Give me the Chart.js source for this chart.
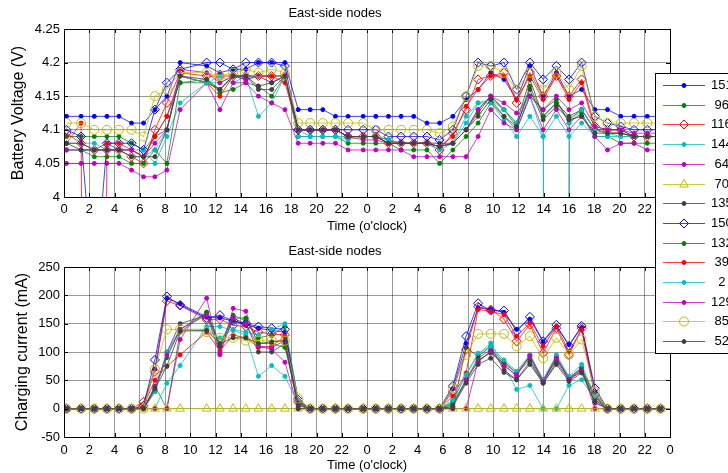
<!DOCTYPE html>
<html>
<head>
<meta charset="utf-8">
<script src="https://cdn.jsdelivr.net/npm/chart.js@4.4.1/dist/chart.umd.min.js"></script>
<style>
  html, body { margin: 0; padding: 0; background: #fff; }
  #wrap { position: relative; width: 728px; height: 473px; overflow: hidden; background: #fff; }
  #wrap canvas { position: absolute; left: 0; top: 0; }
</style>
</head>
<body>
<div id="wrap">
  <canvas id="currentChart" width="728" height="473"></canvas>
  <canvas id="voltageChart" width="728" height="473"></canvas>
</div>
<script>
// sample times in hours since midnight of day 1 (two days shown)
const hours = [0.2, 1.35, 2.4, 3.4, 4.35, 5.35, 6.3, 7.2, 8.15, 9.2,
  11.3, 12.35, 13.4, 14.4, 15.4, 16.45, 17.5, 18.55, 19.5, 20.5, 21.5, 22.5,
  23.7, 24.7, 25.7, 26.7, 27.7, 28.75, 29.75, 30.8, 31.85, 32.8, 33.8, 34.85, 35.85,
  36.9, 37.95, 39.0, 40.0, 41.0, 42.05, 43.05, 44.1, 45.15, 46.2, 47.25];

const hourTicks = [0, 2, 4, 6, 8, 10, 12, 14, 16, 18, 20, 22, 24, 26, 28, 30, 32, 34, 36, 38, 40, 42, 44, 46, 48];
const hourTickLabels = ['0', '2', '4', '6', '8', '10', '12', '14', '16', '18', '20', '22',
  '0', '2', '4', '6', '8', '10', '12', '14', '16', '18', '20', '22', '0'];
const voltageTicks = [4, 4.05, 4.1, 4.15, 4.2, 4.25];
const voltageTickLabels = ['4', '4.05', '4.1', '4.15', '4.2', '4.25'];
const currentTicks = [-50, 0, 50, 100, 150, 200, 250];
const currentTickLabels = ['-50', '0', '50', '100', '150', '200', '250'];

const nodeIds = ['151', '96', '116', '144', '64', '70', '135', '150', '132', '39', '2', '129', '85', '52'];

// battery voltage (V)
const voltage151 = [4.12,4.12,4.12,4.12,4.12,4.11,4.11, 4.13,4.15,4.20, 4.195,4.185,4.19,4.19,4.20,4.20,4.20, 4.13,4.13,4.13,4.12,4.12,
  4.12,4.12,4.12,4.12,4.12,4.11,4.11, 4.12,4.145,4.16,4.185,4.175,4.145,4.195,4.15,4.185,4.15,4.16,4.13, 4.13,4.12,4.12,4.12,4.12];
const voltage96 = [4.09,4.09,4.09,4.09,4.09,4.08,4.07, 4.09,4.12,4.17, 4.175,4.155,4.16,4.17,4.165,4.15,4.18, 4.09,4.09,4.09,4.09,4.08,
  4.08,4.08,4.08,4.07,4.07,4.07,4.05, 4.07,4.09,4.11,4.14,4.12,4.10,4.15,4.13,4.145,4.11,4.125,4.09, 4.09,4.08,4.08,4.08,4.08];
const voltage116 = [4.095,4.08,4.07,4.07,4.07,4.06,4.05, 4.10,4.14,4.185, 4.18,4.18,4.18,4.18,4.18,4.18,4.18, 4.10,4.10,4.10,4.10,4.09,
  4.09,4.09,4.08,4.08,4.08,4.08,4.07, 4.095,4.13,4.175,4.18,4.185,4.14,4.185,4.15,4.18,4.15,4.175,4.105, 4.10,4.10,4.09,4.09,4.09];
const voltage144 = [4.08,4.08,4.08,4.07,4.07,4.07,4.07, 4.05,4.09,4.14, 4.17,4.18,4.17,4.18,4.12,4.14,4.18, 4.09,4.09,4.09,4.09,4.09,
  4.09,4.09,4.085,4.08,4.08,4.08,4.07, 4.08,4.11,4.14,4.14,4.115,4.09,4.12,4.09,4.12,4.09,4.11,4.09, 4.09,4.09,4.09,4.09,4.09];
const voltage64 = [4.05,4.05,4.05,4.05,4.05,4.04,4.03, 4.03,4.04,4.13, 4.17,4.13,4.17,4.17,4.15,4.14,4.13, 4.08,4.08,4.08,4.08,4.07,
  4.07,4.07,4.07,4.07,4.06,4.06,4.06, 4.06,4.06,4.09,4.13,4.11,4.10,4.15,4.10,4.13,4.10,4.12,4.09, 4.07,4.08,4.08,4.07,4.07];
const voltage70 = [];
const voltage135 = [4.08,4.08,4.07,4.08,4.07,4.07,4.06, 4.09,4.10,4.18, 4.17,4.16,4.18,4.18,4.16,4.16,4.18, 4.10,4.10,4.10,4.10,4.09,
  4.09,4.09,4.08,4.08,4.08,4.08,4.08, 4.08,4.10,4.13,4.15,4.13,4.11,4.175,4.12,4.14,4.12,4.13,4.10, 4.10,4.10,4.09,4.09,4.09];
const voltage150 = [4.10,4.09,3.85,4.08,4.08,4.08,4.07, 4.13,4.17,4.19, 4.20,4.20,4.19,4.20,4.20,4.20,4.195, 4.10,4.10,4.10,4.10,4.10,
  4.10,4.10,4.09,4.09,4.09,4.09,4.085, 4.10,4.15,4.20,4.195,4.20,4.16,4.20,4.175,4.195,4.175,4.20,4.12, 4.11,4.105,4.10,4.10,4.10];
const voltage132 = [4.07,4.07,4.06,4.06,4.06,4.05,4.05, 4.07,4.05,4.17, 4.17,4.16,4.18,4.18,4.18,4.18,4.18, 4.10,4.10,4.10,4.10,4.09,
  4.09,4.09,4.085,4.08,4.08,4.08,4.075, 4.08,4.10,4.125,4.15,4.13,4.105,4.165,4.12,4.14,4.115,4.13,4.10, 4.095,4.095,4.09,4.09,4.09];
const voltage39 = [4.08,4.11,1.0,4.08,4.08,4.07,4.06, 4.09,4.12,4.18, 4.17,4.15,4.18,4.175,4.18,4.18,4.17, 4.10,4.10,4.10,4.10,4.09,
  4.09,4.09,4.08,4.08,4.08,4.08,4.075, 4.09,4.135,4.16,4.18,4.18,4.145,4.18,4.145,4.18,4.145,4.17,4.10, 4.095,4.095,4.09,4.09,4.09];
const voltage2 = [4.07,4.07,4.07,4.07,4.07,4.06,4.06, 4.07,4.10,4.18, 4.17,4.17,4.18,4.18,4.18,4.17,4.18, 4.10,4.09,4.09,4.09,4.085,
  4.09,4.09,4.085,4.08,4.08,4.08,4.075, 4.08,4.12,4.14,4.145,4.13,4.11,4.15,4.09,0,4.11,4.13,4.10, 4.095,4.09,4.09,4.09,4.09];
const voltage129 = [4.07,4.07,4.07,4.07,4.07,4.07,4.06, 4.08,4.10,4.19, 4.185,4.17,4.18,4.175,4.18,4.17,4.18, 4.10,4.10,4.10,4.10,4.09,
  4.085,4.085,4.08,4.08,4.08,4.08,4.075, 4.08,4.10,4.13,4.15,4.14,4.125,4.15,4.13,4.15,4.13,4.14,4.105, 4.10,4.10,4.095,4.095,4.095];
const voltage85 = [4.11,4.11,4.10,4.10,4.10,4.10,4.09, 4.15,4.16,4.185, 4.185,4.18,4.185,4.19,4.185,4.19,4.185, 4.11,4.11,4.11,4.11,4.11,
  4.11,4.10,4.10,4.10,4.10,4.10,4.095, 4.105,4.15,4.195,4.195,4.185,4.16,4.185,4.16,4.185,4.16,4.195,4.12, 4.11,4.11,4.11,4.11,4.11];
const voltage52 = [4.08,4.07,4.07,4.07,4.07,4.06,4.06, 4.06,4.10,4.18, 4.175,4.16,4.18,4.18,4.165,4.17,4.18, 4.10,4.10,4.10,4.10,4.09,
  4.09,4.09,4.08,4.08,4.08,4.08,4.075, 4.08,4.10,4.12,4.145,4.12,4.105,4.16,4.115,4.135,4.115,4.12,4.095, 4.095,4.095,4.09,4.09,4.09];

// charging current (mA)
const current151 = [0,0,0,0,0,0, 3,70,195,185, 162,160,155,148,142,138,135, 15, 0,0,0,0,0,0,0,0,0,0,0,
  35,115,178,175,170,140,158,118,145,113,143,30, 0,0,0,0,0];
const current96 = [0,0,0,0,0,0, 0,40,0,135, 170,110,165,155,125,130,145, 0, 0,0,0,0,0,0,0,0,0,0,0,
  10,51,89,104,83,63,86,48,86,54,72,22, 0,0,0,0,0];
const current116 = [0,0,0,0,0,0, 12,65,190,182, 157,158,147,145,135,132,130, 12, 0,0,0,0,0,0,0,0,0,0,0,
  30,104,180,175,158,119,148,98,142,95,142,25, 0,0,0,0,0];
const current144 = [0,0,0,0,0,0, 0,0,45,76, 145,145,138,130,57,76,57, 8, 0,0,0,0,0,0,0,0,0,0,0,
  13,60,95,116,75,34,41,0,0,41,51,16, 0,0,0,0,0];
const current64 = [0,0,0,0,0,0, 0,0,0,122, 195,95,177,172,110,105,82, 0, 0,0,0,0,0,0,0,0,0,0,0,
  0,0,83,101,78,57,95,51,92,54,72,0, 0,0,0,0,0];
const current70 = [0,0,0,0,0,0, 0,0,0,0, 0,0,0,0,0,0,0, 0, 0,0,0,0,0,0,0,0,0,0,0,
  0,0,0,0,0,0,0,0,0,0,0,0, 0,0,0,0,0];
const current135 = [0,0,0,0,0,0, 0,30,100,150, 165,110,155,150,100,100,115, 0, 0,0,0,0,0,0,0,0,0,0,0,
  0,108,92,110,68,51,83,45,82,51,66,16, 0,0,0,0,0];
const current150 = [0,0,0,0,0,0, 5,86,198,183, 160,165,155,150,145,142,140, 16, 0,0,0,0,0,0,0,0,0,0,0,
  40,128,186,173,173,136,162,119,148,111,146,36, 0,0,0,0,0];
const current132 = [0,0,0,0,0,0, 0,35,90,140, 170,115,160,160,115,115,108, 12, 0,0,0,0,0,0,0,0,0,0,0,
  8,48,86,98,80,63,92,48,90,52,70,20, 0,0,0,0,0];
const current39 = [0,0,0,0,0,0, 5,50,75,95, 135,102,130,125,108,110,128, 8, 0,0,0,0,0,0,0,0,0,0,0,
  22,63,175,172,166,128,151,110,145,101,139,22, 0,0,0,0,0];
const current2 = [0,0,0,0,0,0, 0,30,100,140, 140,125,140,135,130,140,150, 15, 0,0,0,0,0,0,0,0,0,0,0,
  15,60,98,110,86,66,95,51,95,57,78,22, 0,0,0,0,0];
const current129 = [0,0,0,0,0,0, 0,38,95,140, 165,97,160,150,110,108,120, 10, 0,0,0,0,0,0,0,0,0,0,0,
  4,51,83,101,75,60,93,48,89,52,67,10, 0,0,0,0,0];
const current85 = [0,0,0,0,0,0, 0,70,140,140, 135,125,125,120,120,120,120, 18, 0,0,0,0,0,0,0,0,0,0,0,
  36,95,132,132,132,110,128,89,125,95,122,30, 0,0,0,0,0];
const current52 = [0,0,0,0,0,0, 0,35,75,137, 138,115,125,125,115,118,120, 5, 0,0,0,0,0,0,0,0,0,0,0,
  4,45,78,89,64,51,78,45,78,48,63,12, 0,0,0,0,0];

const voltageSeries = [voltage151, voltage96, voltage116, voltage144, voltage64, voltage70, voltage135,
  voltage150, voltage132, voltage39, voltage2, voltage129, voltage85, voltage52];
const currentSeries = [current151, current96, current116, current144, current64, current70, current135,
  current150, current132, current39, current2, current129, current85, current52];

// matlab-ish colour cycle and markers
const nodeColors = ['b', 'g', 'r', 'c', 'm', 'y', 'k', 'b', 'g', 'r', 'c', 'm', 'y', 'k'];
const nodeMarkers = ['.', '.', 'd', '.', '.', '^', '.', 'd', '.', '.', '.', '.', 'o', '.'];

const solid = { b: '#0000ff', g: '#008000', r: '#ff0000', c: '#00bfbf', m: '#bf00bf', y: '#bfbf00', k: '#404040' };
const faded = { b: 'rgba(0,0,255,0.75)', g: 'rgba(0,128,0,0.75)', r: 'rgba(255,0,0,0.75)', c: 'rgba(0,191,191,0.75)',
  m: 'rgba(191,0,191,0.75)', y: 'rgba(191,191,0,0.8)', k: 'rgba(64,64,64,0.8)' };
const markerStyle = {
  '.': { pointStyle: 'circle', radius: 2, hollow: false },
  'd': { pointStyle: 'rectRot', radius: 4.5, hollow: true },
  'o': { pointStyle: 'circle', radius: 4.5, hollow: true },
  '^': { pointStyle: 'triangle', radius: 5, hollow: true }
};

const FONT = "'Liberation Sans', Arial, sans-serif";
const gridColor = 'rgba(0,0,0,0.4)';

function buildDatasets(series) {
  return nodeIds.map((id, i) => {
    const m = markerStyle[nodeMarkers[i]];
    const c = nodeColors[i];
    return {
      label: id,
      data: series[i].map((v, k) => ({ x: hours[k], y: v })),
      borderColor: faded[c],
      borderWidth: 1,
      pointStyle: m.pointStyle,
      pointRadius: m.radius,
      pointBorderColor: solid[c],
      pointBackgroundColor: m.hollow ? 'rgba(0,0,0,0)' : solid[c],
      pointBorderWidth: 1,
      tension: 0,
      clip: 0,
      order: -i
    };
  });
}

// box round the axes plus inward tick marks, matlab style
const frame = {
  id: 'frame',
  afterDraw(chart) {
    const { ctx, chartArea: a, scales: { x, y } } = chart;
    ctx.save();
    ctx.strokeStyle = '#000';
    ctx.lineWidth = 1;
    ctx.beginPath();
    x.ticks.forEach(t => {
      const px = Math.round(x.getPixelForValue(t.value)) + 0.5;
      ctx.moveTo(px, a.top); ctx.lineTo(px, a.top + 4);
      ctx.moveTo(px, a.bottom); ctx.lineTo(px, a.bottom - 4);
    });
    y.ticks.forEach(t => {
      const py = Math.round(y.getPixelForValue(t.value)) + 0.5;
      ctx.moveTo(a.left, py); ctx.lineTo(a.left + 4, py);
      ctx.moveTo(a.right, py); ctx.lineTo(a.right - 4, py);
    });
    ctx.stroke();
    ctx.strokeRect(Math.round(a.left) + 0.5, Math.round(a.top) + 0.5,
      Math.round(a.right - a.left), Math.round(a.bottom - a.top));
    ctx.restore();
  }
};

// legend box that sits across both plots on the right
const nodeLegend = {
  id: 'nodeLegend',
  afterDraw(chart) {
    const ctx = chart.ctx;
    const left = 655, top = 73, rowH = 19.7;
    ctx.save();
    ctx.fillStyle = '#fff';
    ctx.fillRect(left, top, 100, 280);
    ctx.strokeStyle = '#000';
    ctx.lineWidth = 1;
    ctx.strokeRect(left + 0.5, top + 0.5, 100, 280);
    chart.data.datasets.forEach((ds, i) => {
      const cy = Math.round(top + 12 + i * rowH) + 0.5;
      ctx.strokeStyle = ds.borderColor;
      ctx.lineWidth = ds.borderWidth;
      ctx.beginPath(); ctx.moveTo(663, cy); ctx.lineTo(705, cy); ctx.stroke();
      ctx.strokeStyle = ds.pointBorderColor;
      ctx.fillStyle = ds.pointBackgroundColor;
      ctx.lineWidth = ds.pointBorderWidth;
      Chart.helpers.drawPoint(ctx, { pointStyle: ds.pointStyle, radius: ds.pointRadius,
        borderWidth: ds.pointBorderWidth, rotation: 0 }, 684, cy);
      ctx.fillStyle = '#000';
      ctx.font = '13px ' + FONT;
      ctx.textBaseline = 'middle';
      ctx.textAlign = 'left';
      ctx.fillText(ds.label.padStart(3, ' '), 711, cy);
    });
    ctx.restore();
  }
};

function makeOptions(cfg) {
  return {
    responsive: false,
    animation: false,
    events: [],
    layout: { padding: cfg.padding },
    plugins: {
      legend: { display: false },
      tooltip: { enabled: false },
      title: {
        display: true, text: 'East-side nodes', color: '#000',
        font: { family: FONT, size: 13, weight: 'normal', lineHeight: 1.2 },
        padding: { top: 6, bottom: 7.4 }
      }
    },
    scales: {
      x: {
        type: 'linear', min: 0, max: 48,
        afterBuildTicks: s => { s.ticks = hourTicks.map(v => ({ value: v })); },
        afterFit: s => { s.height = cfg.xHeight; },
        ticks: { autoSkip: false, maxRotation: 0, padding: cfg.xPad, color: '#000',
          font: { family: FONT, size: 13 }, callback: (v, i) => hourTickLabels[i] },
        grid: { color: gridColor, drawTicks: false },
        border: { display: false },
        title: { display: true, text: "Time (o'clock)", color: '#000',
          font: { family: FONT, size: 13, lineHeight: 1.2 }, padding: { top: 0, bottom: 0 } }
      },
      y: {
        type: 'linear', min: cfg.yMin, max: cfg.yMax,
        afterBuildTicks: s => { s.ticks = cfg.yTicks.map(v => ({ value: v })); },
        afterFit: s => { s.width = 64; },
        ticks: { padding: 4, color: '#000', font: { family: FONT, size: 13 },
          callback: (v, i) => cfg.yLabels[i] },
        grid: { color: gridColor, drawTicks: false },
        border: { display: false },
        title: { display: true, text: cfg.yTitle, color: '#000',
          font: { family: FONT, size: 16, lineHeight: 1.2 }, padding: { top: cfg.yTitlePad, bottom: 0 } }
      }
    }
  };
}

new Chart(document.getElementById('currentChart'), {
  type: 'line',
  data: { datasets: buildDatasets(currentSeries) },
  options: makeOptions({
    padding: { top: 238, right: 58, bottom: 0, left: 0 },
    xHeight: 36, xPad: 6,
    yMin: -50, yMax: 250, yTicks: currentTicks, yLabels: currentTickLabels,
    yTitle: 'Charging current (mA)', yTitlePad: 13
  }),
  plugins: [frame]
});

new Chart(document.getElementById('voltageChart'), {
  type: 'line',
  data: { datasets: buildDatasets(voltageSeries) },
  options: makeOptions({
    padding: { top: 0, right: 58, bottom: 239, left: 0 },
    xHeight: 37, xPad: 5,
    yMin: 4, yMax: 4.25, yTicks: voltageTicks, yLabels: voltageTickLabels,
    yTitle: 'Battery Voltage (V)', yTitlePad: 9
  }),
  plugins: [frame, nodeLegend]
});
</script>
</body>
</html>
